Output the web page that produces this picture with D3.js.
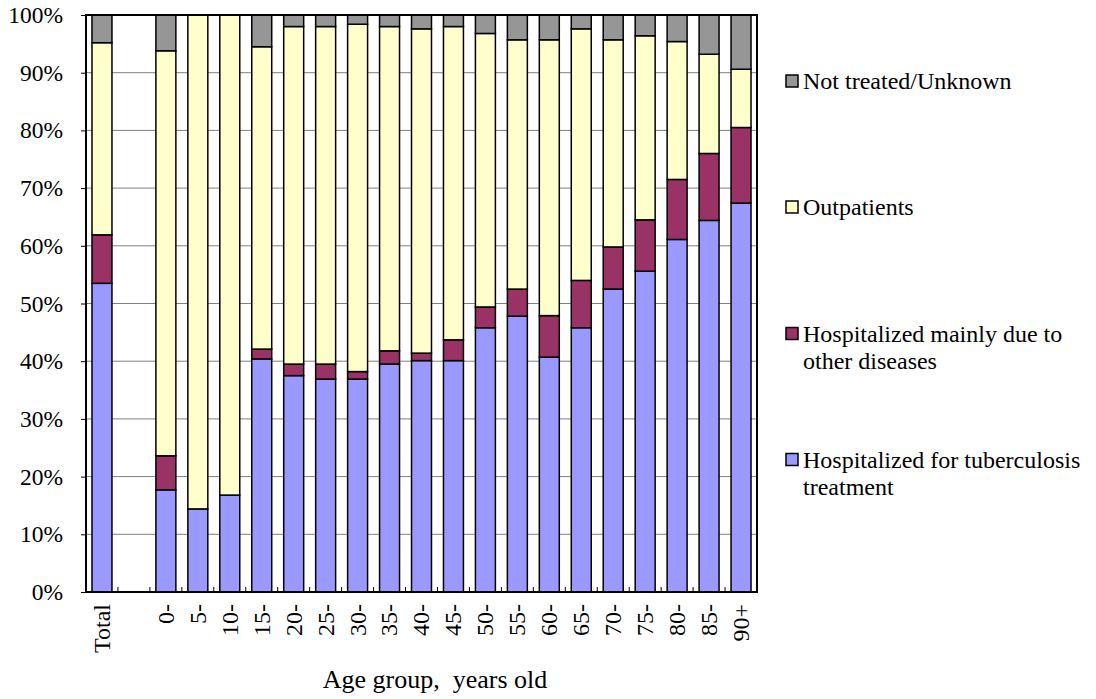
<!DOCTYPE html>
<html><head><meta charset="utf-8">
<script src="https://cdn.jsdelivr.net/npm/d3@7/dist/d3.min.js"></script>
<style>body{margin:0;background:#fff}svg{display:block}text{font-family:"Liberation Serif","Times New Roman",serif;fill:#000}</style>
</head><body><svg id="c" width="1096" height="699"></svg>
<script>
const categories = ["Total", "", "0-", "5-", "10-", "15-", "20-", "25-", "30-", "35-", "40-", "45-", "50-", "55-", "60-", "65-", "70-", "75-", "80-", "85-", "90+"];
const hospTB    = [53.5, null, 17.7, 14.4, 16.8, 40.4, 37.5, 36.9, 36.9, 39.5, 40.1, 40.1, 45.8, 47.8, 40.7, 45.8, 52.5, 55.6, 61.1, 64.4, 67.4];
const hospOther = [8.4, null, 5.9, 0, 0, 1.7, 2.0, 2.6, 1.3, 2.3, 1.3, 3.6, 3.6, 4.7, 7.2, 8.2, 7.3, 8.9, 10.4, 11.6, 13.1];
const outpat    = [33.3, null, 70.2, 85.6, 83.2, 52.4, 58.5, 58.5, 60.2, 56.2, 56.2, 54.3, 47.4, 43.2, 47.8, 43.6, 35.9, 31.9, 23.9, 17.2, 10.1];
const notTreated= [4.8, null, 6.2, 0, 0, 5.5, 2.0, 2.0, 1.6, 2.0, 2.4, 2.0, 3.2, 4.3, 4.3, 2.4, 4.3, 3.6, 4.6, 6.8, 9.4];
const yTicks = [0, 10, 20, 30, 40, 50, 60, 70, 80, 90, 100];
const seriesNames = ["Hospitalized for tuberculosis treatment", "Hospitalized mainly due to other diseases", "Outpatients", "Not treated/Unknown"];
const legendLines = [["Not treated/Unknown"], ["Outpatients"], ["Hospitalized mainly due to", "other diseases"], ["Hospitalized for tuberculosis", "treatment"]];
const colors = ["#9999FF", "#993366", "#FFFFCC", "#969696"];

const svg = d3.select("#c");
const FONT = '"Liberation Serif", "Times New Roman", serif';
const L = 86, T = 15, W = 671, H = 577;
const g = svg.append("g").attr("transform", `translate(${L},${T})`);
const keys = categories.map((c, i) => i);
const x = d3.scaleBand().domain(keys).range([0, W]).paddingInner(0.375).paddingOuter(0.1875);
const y = d3.scaleLinear().domain([0, 100]).range([H, 0]);

// gridlines
g.append("g").selectAll("line").data(yTicks.filter(v => v > 0 && v < 100)).join("line")
  .attr("x1", 0).attr("x2", W).attr("y1", d => y(d)).attr("y2", d => y(d))
  .attr("stroke", "#808080").attr("stroke-width", 1);

// data rows
const rows = keys.map(i => ({ i, v: [hospTB[i], hospOther[i], outpat[i], notTreated[i]] })).filter(r => r.v[0] !== null);
const table = rows.map(r => ({ i: r.i, s0: r.v[0], s1: r.v[1], s2: r.v[2], s3: r.v[3] }));
const stack = d3.stack().keys(["s0", "s1", "s2", "s3"])(table);

g.append("g").selectAll("g").data(stack).join("g")
  .attr("fill", (d, k) => colors[k])
  .selectAll("rect").data(d => d.filter(p => p[1] - p[0] > 0)).join("rect")
  .attr("x", d => x(d.data.i)).attr("width", x.bandwidth())
  .attr("y", d => y(d[1])).attr("height", d => y(d[0]) - y(d[1]))
  .attr("stroke", "#000").attr("stroke-width", 1.5);

// bottom tick marks between categories
g.append("g").selectAll("line").data(keys.slice(1)).join("line")
  .attr("x1", d => x(d) - x.step() * x.paddingInner() / 2).attr("x2", d => x(d) - x.step() * x.paddingInner() / 2)
  .attr("y1", H).attr("y2", H - 5).attr("stroke", "#000").attr("stroke-width", 1);

// frame
g.append("rect").attr("x", 0).attr("y", 0).attr("width", W).attr("height", H)
  .attr("fill", "none").attr("stroke", "#000").attr("stroke-width", 2);

// y axis
const ya = g.append("g").call(d3.axisLeft(y).tickValues(yTicks).tickFormat(d => d + "%").tickSize(5).tickPadding(18));
ya.select(".domain").remove();
ya.selectAll("line").attr("stroke", "#000");
ya.selectAll("text").attr("font-family", FONT).style("font-family", FONT).style("font-size", "23.5px");

// x labels
const xa = g.append("g").attr("transform", `translate(0,${H})`).call(d3.axisBottom(x).tickSize(0).tickFormat(i => categories[i]));
xa.select(".domain").remove();
xa.selectAll("text").attr("font-family", FONT).style("font-family", FONT).style("font-size", "24px")
  .attr("text-anchor", "end").attr("transform", "rotate(-90)")
  .attr("x", -12).attr("y", 0).attr("dy", "0.33em");

// axis title
svg.append("text").attr("x", 435).attr("y", 688).attr("text-anchor", "middle")
  .style("font-family", FONT).style("font-size", "26px").attr("xml:space", "preserve").text("Age group,  years old");

// legend
const legBase = [89, 215, 341.5, 467.5];
const lg = svg.append("g");
legendLines.forEach((lines, k) => {
  const col = colors[3 - k];
  lg.append("rect").attr("x", 786).attr("y", legBase[k] - 14).attr("width", 12).attr("height", 12)
    .attr("fill", col).attr("stroke", "#000").attr("stroke-width", 1.5);
  lines.forEach((t, j) => {
    lg.append("text").attr("x", 803).attr("y", legBase[k] + j * 27.5)
      .style("font-family", FONT).style("font-size", "24px").text(t);
  });
});
</script></body></html>
